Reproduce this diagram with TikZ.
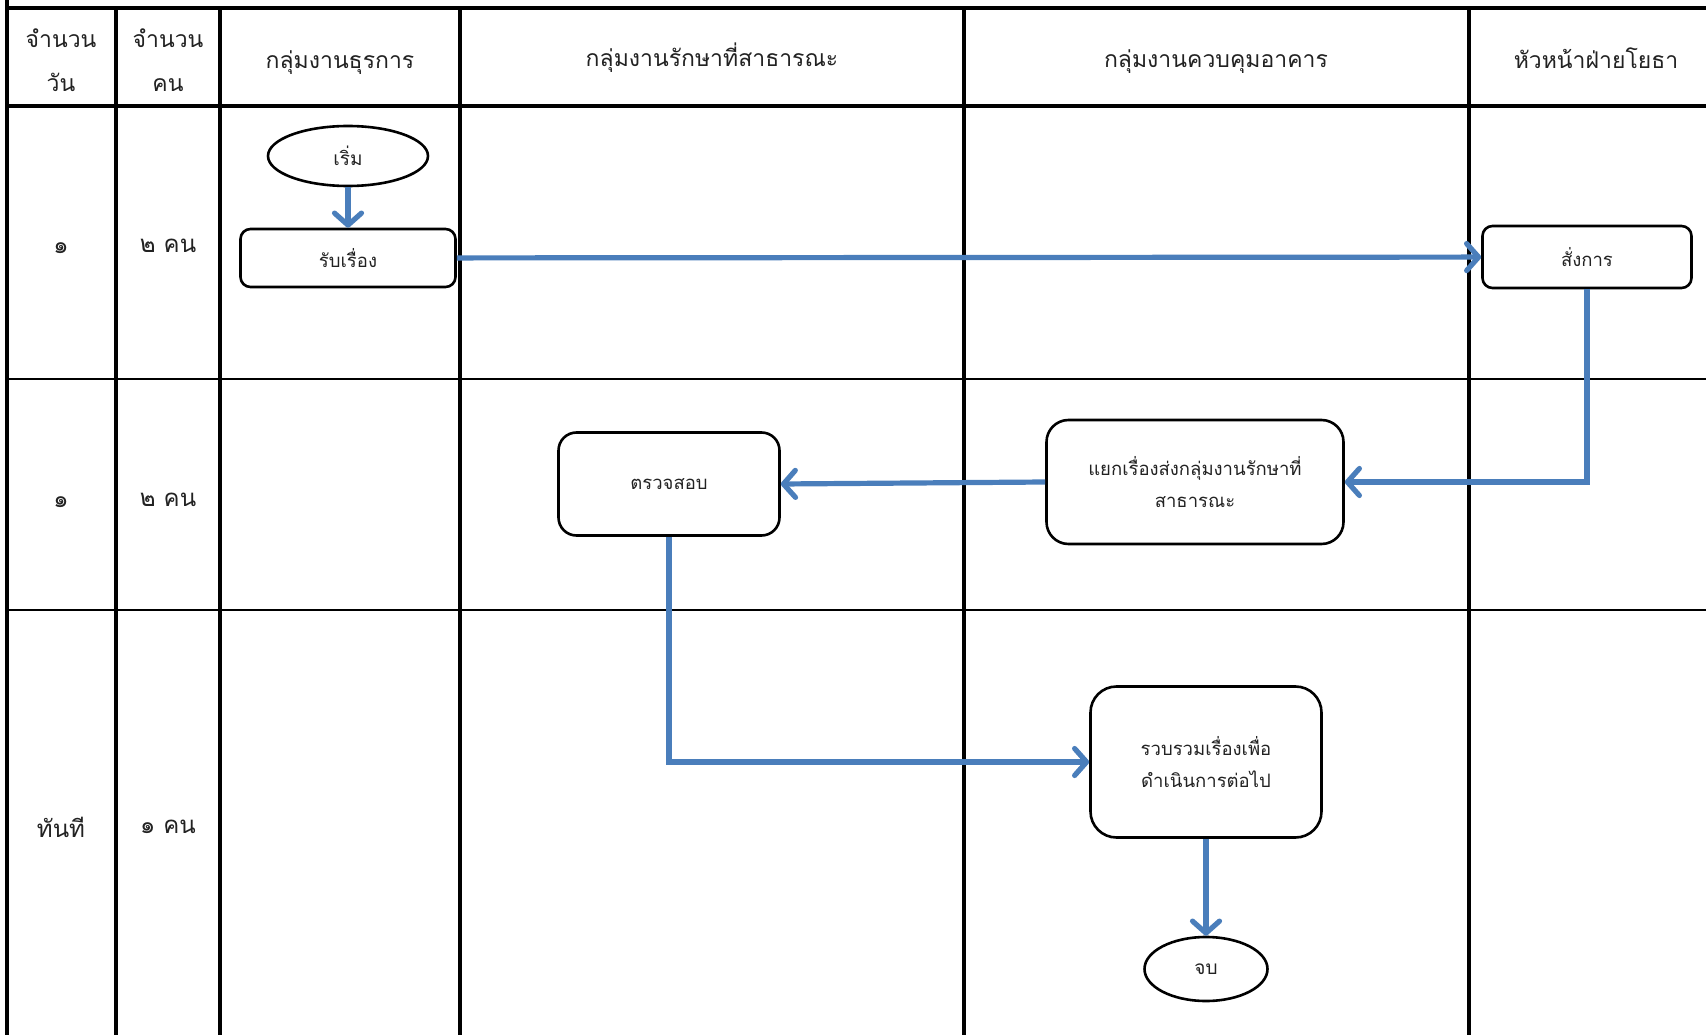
\documentclass[tikz,border=0pt]{standalone}
\usepackage{fontspec}
\newfontfamily\thaifont[Script=Thai]{Loma}
\usetikzlibrary{arrows.meta,shapes.geometric}
\definecolor{flowblue}{HTML}{4A7EBB}
\definecolor{txt}{HTML}{222222}
\tikzset{
  grid/.style={line width=3.2pt,black},
  thin grid/.style={line width=1.2pt,black},
  head/.style={font=\thaifont\fontsize{23}{44}\selectfont,text=txt,align=center,inner sep=0pt},
  lab/.style={font=\thaifont\fontsize{24}{34}\selectfont,text=txt,align=center,inner sep=0pt},
  stepbox/.style={draw,line width=2.6pt,rounded corners=#1,font=\thaifont\fontsize{18.5}{32}\selectfont,text=txt,align=center,inner sep=0pt},
  stepbox/.default=12pt,
  term/.style={draw,ellipse,line width=2.6pt,font=\thaifont\fontsize{19}{24}\selectfont,text=txt,inner sep=0pt},
  flow/.style={draw=flowblue,line width=5.2pt,-{Straight Barb[length=12pt,width=27pt,line cap=round,line join=round]}},
}
\begin{document}
\begin{tikzpicture}[x=1pt,y=-1pt]
\useasboundingbox (0,0) rectangle (1706,1035);
% grid
\draw[thin grid] (7,379) -- (1706,379);
\draw[thin grid] (7,610) -- (1706,610);
\draw[grid] (7,0) -- (7,1035);
\draw[grid] (7,8) -- (1706,8);
\draw[grid] (7,106) -- (1706,106);
\foreach \xx in {116,220,460,964,1469} \draw[grid] (\xx,8) -- (\xx,1035);
% headers
\node[head] (h1) at (61,60) {จำนวน\\วัน};
\node[head] (h2) at (168,60) {จำนวน\\คน};
\node[head] (h3) at (340,63) {กลุ่มงานธุรการ};
\node[head] (h4) at (712,58) {กลุ่มงานรักษาที่สาธารณะ};
\node[head] (h5) at (1216,62) {กลุ่มงานควบคุมอาคาร};
\node[head] (h6) at (1596,58) {หัวหน้าฝ่ายโยธา};
% row labels
\node[lab] (d1) at (61,248) {๑};
\node[lab] (p1) at (168,246) {๒ คน};
\node[lab] (d2) at (61,502) {๑};
\node[lab] (p2) at (168,500) {๒ คน};
\node[lab] (d3) at (61,827) {ทันที};
\node[lab] (p3) at (168,827) {๑ คน};
% nodes
\node[term,minimum width=160pt,minimum height=60pt] (start) at (348,156) {เริ่ม};
\node[stepbox=10pt,minimum width=215pt,minimum height=58pt] (recv) at (348,258) {รับเรื่อง};
\node[stepbox=10pt,minimum width=209pt,minimum height=62pt] (order) at (1587,257) {สั่งการ};
\node[stepbox=22pt,minimum width=297pt,minimum height=124pt] (sep) at (1195,482) {แยกเรื่องส่งกลุ่มงานรักษาที่\\สาธารณะ};
\node[stepbox=18pt,minimum width=221pt,minimum height=103pt] (check) at (669,484) {ตรวจสอบ};
\node[stepbox=26pt,minimum width=231pt,minimum height=151pt] (collect) at (1206,762) {รวบรวมเรื่องเพื่อ\\ดำเนินการต่อไป};
\node[term,minimum width=123pt,minimum height=64pt] (stop) at (1206,969) {จบ};
% connectors
\draw[flow] (start) -- (recv);
\draw[flow] (recv) -- (order);
\draw[flow] (order.south) |- (sep.east);
\draw[flow] (sep.west) -- (check.east);
\draw[flow] (check.south) |- (collect.west);
\draw[flow] (collect) -- (stop);
\end{tikzpicture}
\end{document}
